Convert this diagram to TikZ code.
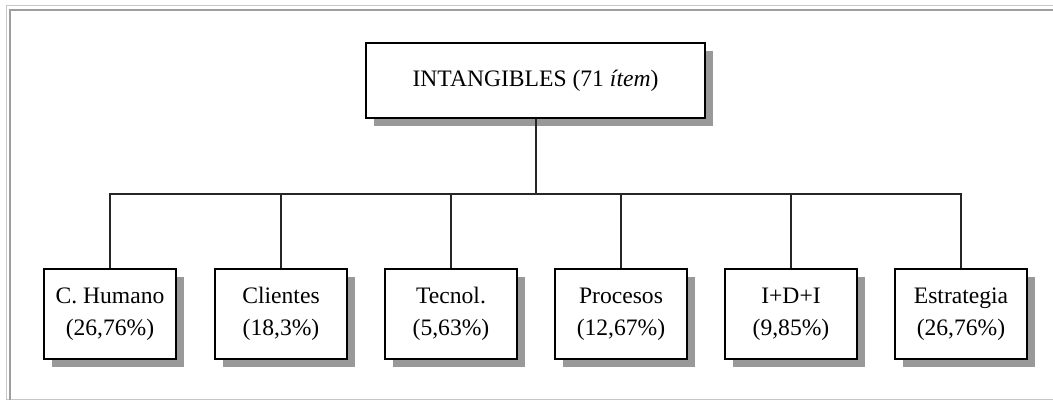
\documentclass[tikz,border=0pt]{standalone}
\usepackage{fontspec}
\setmainfont{Liberation Serif}
\usepackage{tikz}
\usetikzlibrary{shadows, positioning, calc}
\definecolor{shadowgray}{rgb}{0.6,0.6,0.6}
\definecolor{framelight}{rgb}{0.78,0.78,0.78}
\definecolor{framedark}{rgb}{0.62,0.62,0.62}

\begin{document}
\begin{tikzpicture}[x=0.5pt, y=0.5pt,
    box/.style={draw, line width=1pt, fill=white, align=center, inner sep=0pt,
        font=\fontsize{11.8}{16}\selectfont,
        drop shadow={shadow xshift=4pt, shadow yshift=-4pt, fill=shadowgray, opacity=1}},
    topbox/.style={box, minimum width=169.5pt, minimum height=37.5pt},
    catbox/.style={box, minimum width=66pt, minimum height=45pt},
    link/.style={draw=black!85, line width=1pt}]
    \useasboundingbox (0,0) rectangle (1053,401);

    % outer frame
    \draw[framelight, line width=0.8pt] (1053,395.5) -- (6.5,395.5) -- (6.5,1.5) -- (1053,1.5);
    \draw[framedark, line width=1pt] (1053,391) -- (10,391) -- (10,1.5);

    \node[topbox] (intang) at (535.5,320.5) {INTANGIBLES (71 \textit{ítem})};
    \coordinate (bus) at (535.5,207);
    \draw[link] (intang.south) -- (bus);

    % six categories
    \foreach \x/\n/\m/\p in {
        110/humano/C. Humano/{26,76\%},
        281/clientes/Clientes/{18,3\%},
        451/tecnol/Tecnol./{5,63\%},
        621/procesos/Procesos/{12,67\%},
        791/idi/I+D+I/{9,85\%},
        961/estrat/Estrategia/{26,76\%}}
    {
        \node[catbox] (\n) at (\x,87) {\m\\(\p)};
        \draw[link] (\n.north) |- (bus);
    }
\end{tikzpicture}
\end{document}
